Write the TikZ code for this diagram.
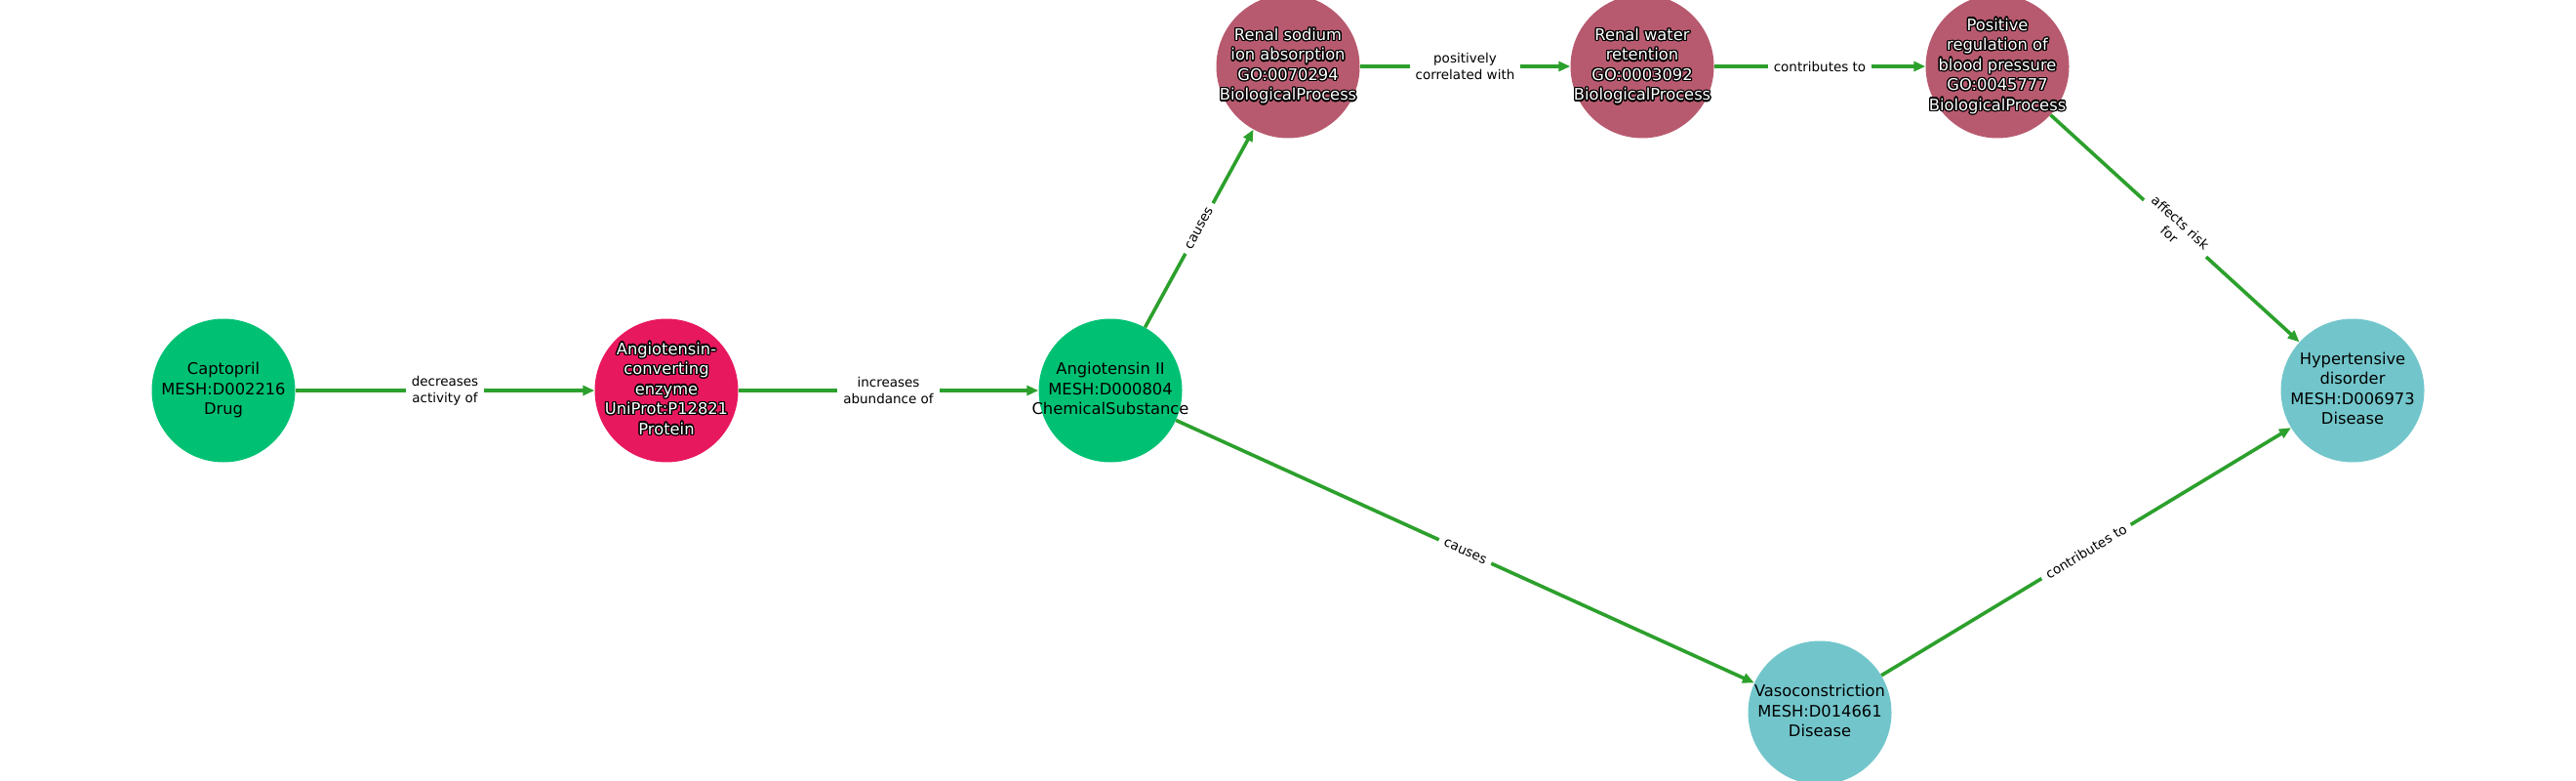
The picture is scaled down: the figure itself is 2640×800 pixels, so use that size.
\documentclass[tikz,border=0pt]{standalone}
\usepackage{fontspec}
\setmainfont{DejaVu Sans}
\usepackage{contour}
\contourlength{1.3pt}
\usetikzlibrary{arrows.meta}
\definecolor{drugc}{HTML}{00C173}
\definecolor{protc}{HTML}{E8185E}
\definecolor{bpc}{HTML}{B85A6F}
\definecolor{disc}{HTML}{72C6CB}
\definecolor{edgec}{HTML}{2CA02C}
\newcommand\ow[1]{\contour{black}{#1}}
\newcommand\lines[1]{\makebox[0pt]{\raisebox{-2pt}{\begin{tabular}{@{}c@{}}#1\end{tabular}}}}
\tikzset{
  ent/.style={circle, minimum size=147pt, inner sep=0pt, draw=none,
    font=\fontsize{16.3}{20.5}\selectfont},
  drugn/.style={ent, fill=drugc, text=black},
  protn/.style={ent, fill=protc, text=white},
  bpn/.style={ent, fill=bpc, text=white},
  disn/.style={ent, fill=disc, text=black},
  rel/.style={draw=edgec, line width=3.6pt, -{Triangle[length=12pt,width=10pt]}},
  lab/.style={midway, sloped, fill=white, inner xsep=6pt, inner ysep=2pt, align=center,
    text=black, font=\fontsize{13.5}{17}\selectfont}
}
\begin{document}
\begin{tikzpicture}[x=1pt,y=-1pt]
\useasboundingbox (0,0) rectangle (2640,800);
% nodes
\node[drugn] (cap) at (229,400) {\lines{Captopril\\MESH:D002216\\Drug}};
\node[protn] (ace) at (683,400) {\lines{\ow{Angiotensin-}\\\ow{converting}\\\ow{enzyme}\\\ow{UniProt:P12821}\\\ow{Protein}}};
\node[drugn] (ang) at (1138,400) {\lines{Angiotensin II\\MESH:D000804\\ChemicalSubstance}};
\node[bpn] (rsa) at (1320,68) {\lines{\ow{Renal sodium}\\\ow{ion absorption}\\\ow{GO:0070294}\\\ow{BiologicalProcess}}};
\node[bpn] (rwr) at (1683,68) {\lines{\ow{Renal water}\\\ow{retention}\\\ow{GO:0003092}\\\ow{BiologicalProcess}}};
\node[bpn] (prb) at (2047,68) {\lines{\ow{Positive}\\\ow{regulation of}\\\ow{blood pressure}\\\ow{GO:0045777}\\\ow{BiologicalProcess}}};
\node[disn] (hyp) at (2411,400) {\lines{Hypertensive\\disorder\\MESH:D006973\\Disease}};
\node[disn] (vas) at (1865,730) {\lines{Vasoconstriction\\MESH:D014661\\Disease}};
% edges
\draw[rel] (cap) -- node[lab] {decreases\\activity of} (ace);
\draw[rel] (ace) -- node[lab] {increases\\abundance of} (ang);
\draw[rel] (ang) -- node[lab] {causes} (rsa);
\draw[rel] (rsa) -- node[lab] {positively\\correlated with} (rwr);
\draw[rel] (rwr) -- node[lab] {contributes to} (prb);
\draw[rel] (prb) -- node[lab] {affects risk\\for} (hyp);
\draw[rel] (ang) -- node[lab] {causes} (vas);
\draw[rel] (vas) -- node[lab] {contributes to} (hyp);
\end{tikzpicture}
\end{document}
